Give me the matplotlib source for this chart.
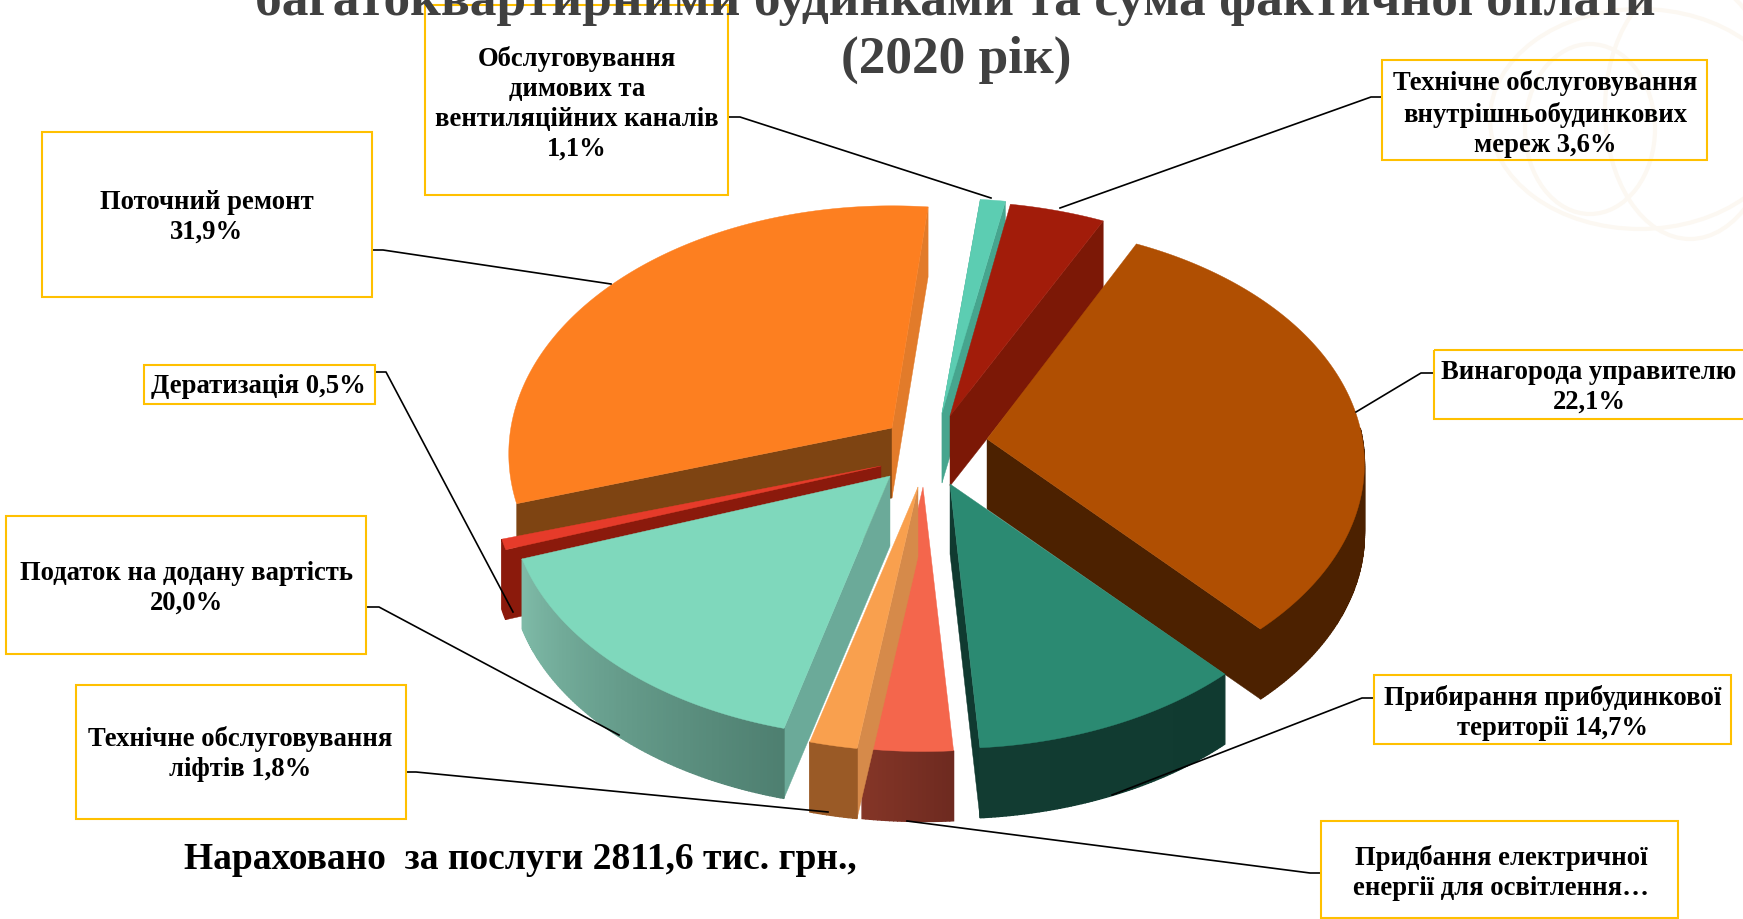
import matplotlib
matplotlib.use("Agg")
import matplotlib.pyplot as plt
import numpy as np
from matplotlib.patches import Ellipse, Rectangle

# slices clockwise from the top, shares as drawn in the picture (they differ from the printed labels)
slice_names = ["Димові канали", "Внутрішньобудинкові мережі", "Винагорода управителю",
               "Прибирання території", "Електрична енергія", "Ліфти",
               "ПДВ", "Дератизація", "Поточний ремонт"]
slice_shares = [1.1, 4.4, 31.1, 10.6, 3.4, 1.8, 15.4, 0.7, 31.5]

box_texts = [
    "Поточний ремонт\n31,9%",
    "Обслуговування\nдимових та\nвентиляційних каналів\n1,1%",
    "Дератизація 0,5%",
    "Податок на додану вартість\n20,0%",
    "Технічне обслуговування\nліфтів 1,8%",
    "Технічне обслуговування\nвнутрішньобудинкових\nмереж 3,6%",
    "Винагорода управителю\n22,1%",
    "Прибирання прибудинкової\nтериторії 14,7%",
    "Придбання електричної\nенергії для освітлення…",
]
title_lines = ["багатоквартирними будинками та сума фактичної оплати", "(2020 рік)"]
note_text = "Нараховано  за послуги 2811,6 тис. грн.,"

# layout, in picture pixels
START_ANGLE = 84
R, A, P = 385, 237, 0.104   # perspective ellipse
DEPTH = 70
apexes = [(942, 414), (950, 417), (987, 440), (950, 485), (923, 488),
          (918, 488), (890, 477), (881, 467), (892, 429)]
stretch = [(1.05, 1), (1.0, 1), (0.975, 1), (0.98, 1), (1, 1), (1, 1), (0.98, 0.99), (1, 1), (0.99, 1.035)]
draw_order = [8, 0, 1, 2, 7, 6, 3, 4, 5]

top_colors = ["#5CCDB2", "#A21C0A", "#B04F02", "#2B8A72", "#F4664C",
              "#F9A04E", "#7FD8BC", "#E63B2A", "#FD7F20"]
start_faces = ["#46A58E", None, None, None, None, "#D68A4A", "#6BAA99", "#8B1A0C", "#7E4412"]
end_faces = ["#46A58E", "#7C1806", "#4C2100", "#103A30", None, None, None, None, "#E27B2A"]
rim_colors = [None, None, ("#4C2100", "#4C2100"), ("#103A30", "#123C32"), ("#6E2A20", "#843527"),
              ("#9A5A26", "#9A5A26"), ("#4E7F70", "#7FBBA8"), ("#8B1A0C", "#8B1A0C"), None]

# x0, x1, y0, y1 of the boxes, and the centre of their text
box_rects = [(42, 372, 133, 298), (425, 728, 6, 196), (144, 375, 366, 405), (6, 366, 517, 655),
             (76, 406, 686, 820), (1382, 1707, 61, 161), (1434, 1760, 351, 420),
             (1374, 1731, 676, 745), (1321, 1678, 822, 919)]
text_centres = [(207, 217), (577, 104), (258, 387), (187, 588), (240, 754),
                (1545, 114), (1589, 387), (1553, 713), (1501, 873)]
leaders = [
    [(372, 251), (383, 251), (611, 285)],
    [(728, 118), (740, 118), (991, 199)],
    [(375, 373), (386, 373), (513, 613)],
    [(366, 608), (379, 608), (619, 736)],
    [(406, 773), (416, 773), (828, 813)],
    [(1382, 98), (1371, 98), (1060, 209)],
    [(1434, 374), (1421, 374), (1356, 413)],
    [(1374, 699), (1362, 699), (1112, 796)],
    [(1321, 874), (1310, 874), (907, 822)],
]


def rim_point(theta, apex, st):
    s, c = np.sin(np.radians(theta)), np.cos(np.radians(theta))
    d = 1 + P * s
    return apex[0] + R * st[0] * c / d, apex[1] - A * st[1] * s / d


def hex_mix(c0, c1, t):
    a = np.array(matplotlib.colors.to_rgb(c0))
    b = np.array(matplotlib.colors.to_rgb(c1))
    return a + (b - a) * t


def radial_face(ax, theta, apex, st, color, z):
    x, y = rim_point(theta, apex, st)
    ax.fill([apex[0], x, x, apex[0]], [apex[1], y, y + DEPTH, apex[1] + DEPTH],
            color=color, lw=0.3, zorder=z)


def main():
    fig = plt.figure(figsize=(17.43, 9.2), dpi=100)
    ax = fig.add_axes([0, 0, 1, 1])
    ax.set_xlim(0, 1743)
    ax.set_ylim(920, 0)
    ax.axis("off")

    # faint watermark, top right
    for cx, cy, w, h in [(1640, 120, 300, 220), (1690, 110, 170, 260), (1590, 130, 130, 170)]:
        ax.add_patch(Ellipse((cx, cy), w, h, fill=False, ec="#FCF8F2", lw=3, zorder=1))

    # angles from the shares
    edges = START_ANGLE - np.concatenate([[0], np.cumsum(slice_shares)]) / sum(slice_shares) * 360

    for n, i in enumerate(draw_order):
        z = 3 + n
        a0, a1 = edges[i], edges[i + 1]
        apex, st = apexes[i], stretch[i]
        if start_faces[i]:
            radial_face(ax, a0, apex, st, start_faces[i], z)
        if end_faces[i]:
            radial_face(ax, a1, apex, st, end_faces[i], z)
        angs = np.linspace(a0, a1, max(4, int(abs(a0 - a1) * 2)))
        if rim_colors[i]:
            for k in range(len(angs) - 1):
                # the back of the rim is hidden behind the top face
                if np.sin(np.radians(angs[k])) > 0.05:
                    continue
                x0, y0 = rim_point(angs[k], apex, st)
                x1, y1 = rim_point(angs[k + 1], apex, st)
                col = hex_mix(*rim_colors[i], k / max(1, len(angs) - 2))
                ax.fill([x0, x1, x1, x0], [y0, y1, y1 + DEPTH, y0 + DEPTH],
                        color=col, lw=1.0, zorder=z)
        xs, ys = rim_point(angs, apex, st)
        ax.fill(np.r_[apex[0], xs], np.r_[apex[1], ys], color=top_colors[i], lw=0.3, zorder=z)

    serif = "Liberation Serif"
    for (x0, x1, y0, y1), txt, (tx, ty), path in zip(box_rects, box_texts, text_centres, leaders):
        ax.add_patch(Rectangle((x0, y0), x1 - x0, y1 - y0, fc="none", ec="#FFC000", lw=1.5, zorder=20))
        ax.text(tx, ty, txt, family=serif, weight="bold", fontsize=19.2, color="black",
                ha="center", va="center", linespacing=1.26, zorder=21)
        ax.plot(*zip(*path), color="black", lw=1.2, zorder=19)

    ax.text(955, 2, title_lines[0], family=serif, weight="bold", fontsize=38.4, color="#404040",
            ha="center", va="center", zorder=22)
    ax.text(956, 60, title_lines[1], family=serif, weight="bold", fontsize=38.4, color="#404040",
            ha="center", va="center", zorder=22)
    ax.text(520, 860, note_text, family=serif, weight="bold", fontsize=27, color="black",
            ha="center", va="center", zorder=21)

    plt.savefig("out.png", dpi=100)


if __name__ == "__main__":
    main()
